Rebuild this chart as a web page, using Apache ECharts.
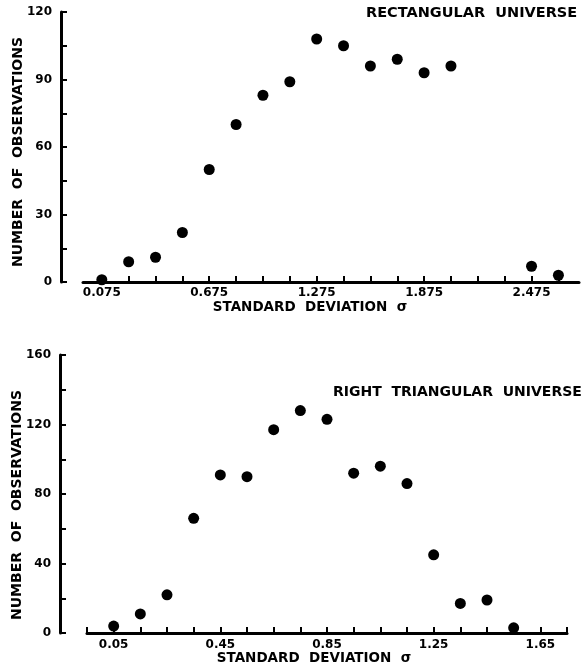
<!DOCTYPE html>
<html>
<head>
<meta charset="utf-8">
<script src="https://cdn.jsdelivr.net/npm/echarts@6/dist/echarts.min.js"></script>
<style>html,body{margin:0;padding:0;background:#fff}#c{width:583px;height:670px}</style>
</head>
<body>
<div id="c"></div>
<script>
// ---- Data ----
const topTitle = 'RECTANGULAR  UNIVERSE';
const bottomTitle = 'RIGHT  TRIANGULAR  UNIVERSE';
const yName = 'NUMBER  OF  OBSERVATIONS';
const xName = 'STANDARD  DEVIATION  σ';

const topX = [0.075, 0.225, 0.375, 0.525, 0.675, 0.825, 0.975, 1.125, 1.275, 1.425, 1.575, 1.725, 1.875, 2.025, 2.475, 2.625];
const topY = [1, 9, 11, 22, 50, 70, 83, 89, 108, 105, 96, 99, 93, 96, 7, 3];
const topXTicks = [0.075, 0.225, 0.375, 0.525, 0.675, 0.825, 0.975, 1.125, 1.275, 1.425, 1.575, 1.725, 1.875, 2.025, 2.175, 2.325, 2.475, 2.625];
const topXLabels = [0.075, 0.675, 1.275, 1.875, 2.475];
const topYLabels = [0, 30, 60, 90, 120];

const botX = [0.05, 0.15, 0.25, 0.35, 0.45, 0.55, 0.65, 0.75, 0.85, 0.95, 1.05, 1.15, 1.25, 1.35, 1.45, 1.55];
const botY = [4, 11, 22, 66, 91, 90, 117, 128, 123, 92, 96, 86, 45, 17, 19, 3];
const botXLabels = [0.05, 0.45, 0.85, 1.25, 1.65];
const botYLabels = [0, 40, 80, 120, 160];

// ---- Chart ----
const FONT = '"DejaVu Sans", "Liberation Sans", sans-serif';
const BLACK = '#000';

function xAxisCfg(gridIndex, min, max, opts) {
  return Object.assign({
    type: 'value', gridIndex, min, max,
    name: xName, nameLocation: 'middle',
    axisLine: { show: true, onZero: false, lineStyle: { color: BLACK, width: 3 } },
    axisTick: { show: true, inside: true, length: 6, lineStyle: { color: BLACK, width: 2 } },
    axisLabel: { fontFamily: FONT, fontWeight: 'bold', fontSize: 12, color: BLACK },
    splitLine: { show: false }
  }, opts);
}
function yAxisCfg(gridIndex, max, interval, labels, opts) {
  return Object.assign({
    type: 'value', gridIndex, min: 0, max, interval,
    name: yName, nameLocation: 'middle', nameRotate: 90, nameMoveOverlap: false,
    axisLine: { show: true, onZero: false, lineStyle: { color: BLACK, width: 3 } },
    axisTick: { show: true, inside: true, length: 6, lineStyle: { color: BLACK, width: 2 } },
    axisLabel: {
      fontFamily: FONT, fontWeight: 'bold', fontSize: 12, color: BLACK, margin: 9,
      formatter: v => labels.indexOf(v) >= 0 ? String(v) : ''
    },
    splitLine: { show: false }
  }, opts);
}

const chart = echarts.init(document.getElementById('c'), null, { renderer: 'canvas' });
chart.setOption({
  backgroundColor: '#fff',
  animation: false,
  grid: [
    { left: 83, top: 12, width: 496, height: 270, outerBoundsMode: 'none', containLabel: false },
    { left: 87, top: 355, width: 480, height: 278, outerBoundsMode: 'none', containLabel: false }
  ],
  xAxis: [
    xAxisCfg(0, -0.03, 2.74, {
      nameGap: 18,
      nameTextStyle: { fontFamily: FONT, fontWeight: 'bold', fontSize: 13.5, color: BLACK, padding: [0, 42, 0, 0] },
      axisTick: { show: true, inside: true, length: 6, customValues: topXTicks, lineStyle: { color: BLACK, width: 2 } },
      axisLabel: { fontFamily: FONT, fontWeight: 'bold', fontSize: 12, color: BLACK, margin: 5,
        customValues: topXLabels, formatter: v => v.toFixed(3) }
    }),
    xAxisCfg(1, -0.05, 1.75, {
      interval: 0.1, nameGap: 17,
      nameTextStyle: { fontFamily: FONT, fontWeight: 'bold', fontSize: 13.5, color: BLACK, padding: [0, 26, 0, 0] },
      axisLabel: { fontFamily: FONT, fontWeight: 'bold', fontSize: 12, color: BLACK, margin: 6,
        customValues: botXLabels, formatter: v => v.toFixed(2) }
    })
  ],
  yAxis: [
    yAxisCfg(0, 120, 15, topYLabels, { offset: 22, nameGap: 36,
      nameTextStyle: { fontFamily: FONT, fontWeight: 'bold', fontSize: 14, color: BLACK, padding: [0, 10, 0, 0] } }),
    yAxisCfg(1, 160, 20, botYLabels, { offset: 27, nameGap: 36,
      nameTextStyle: { fontFamily: FONT, fontWeight: 'bold', fontSize: 14, color: BLACK, padding: [0, 22, 0, 0] } })
  ],
  graphic: [
    { type: 'text', left: 366, top: 6, style: { text: topTitle, font: 'bold 14.5px ' + FONT, fill: BLACK } },
    { type: 'text', left: 333, top: 385, style: { text: bottomTitle, font: 'bold 14px ' + FONT, fill: BLACK } }
  ],
  series: [
    { type: 'scatter', xAxisIndex: 0, yAxisIndex: 0, symbol: 'circle', symbolSize: 11,
      itemStyle: { color: BLACK, opacity: 1 }, data: topX.map((x, i) => [x, topY[i]]) },
    { type: 'scatter', xAxisIndex: 1, yAxisIndex: 1, symbol: 'circle', symbolSize: 11,
      itemStyle: { color: BLACK, opacity: 1 }, data: botX.map((x, i) => [x, botY[i]]) }
  ]
});
</script>
</body>
</html>
